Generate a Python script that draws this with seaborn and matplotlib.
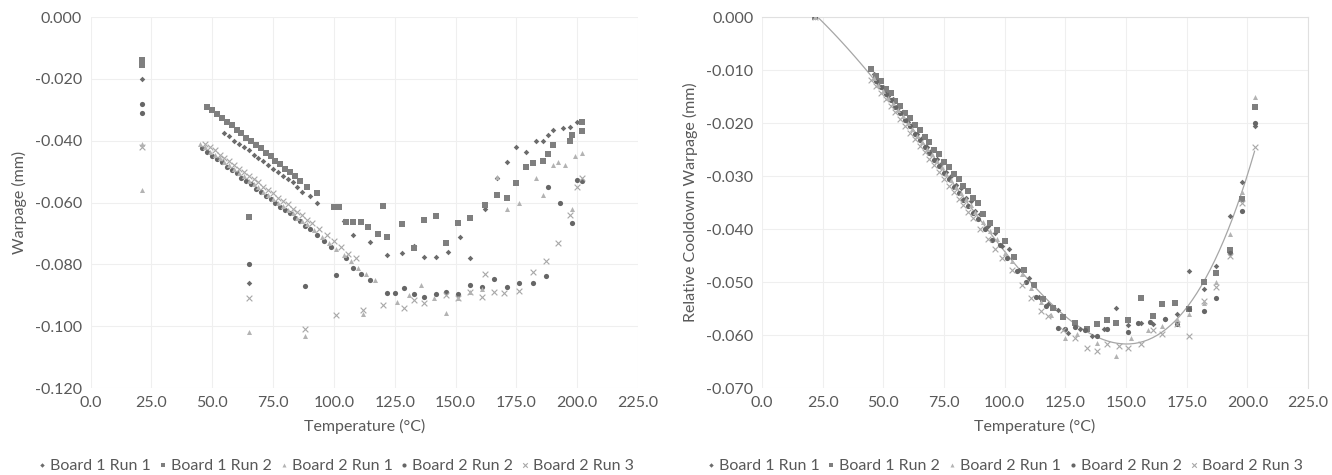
import numpy as np
import pandas as pd
import matplotlib
matplotlib.use("Agg")
import matplotlib.pyplot as plt
import seaborn as sns
from matplotlib.ticker import FormatStrFormatter, MultipleLocator

# ---------------- left panel: warpage vs temperature ----------------
L_B1R1_T = [21, 55, 57, 59, 61, 63, 65, 67, 69, 71, 73, 75, 77, 79, 81, 83, 85, 87, 90, 93,
            65, 104, 108, 115, 122, 128, 133, 137, 142, 147, 152, 156, 162, 167, 171, 175,
            179, 183, 186, 188, 190, 194, 197, 200]
L_B1R1_W = [-0.020, -0.0375, -0.0385, -0.040, -0.041, -0.042, -0.043, -0.0445, -0.0455, -0.0465,
            -0.048, -0.049, -0.050, -0.0515, -0.0525, -0.0535, -0.055, -0.0565, -0.058, -0.060,
            -0.086, -0.066, -0.0705, -0.0728, -0.077, -0.0764, -0.074, -0.0776, -0.0776, -0.076,
            -0.071, -0.078, -0.062, -0.052, -0.047, -0.042, -0.0437, -0.040, -0.040, -0.038,
            -0.0365, -0.036, -0.0355, -0.034]

L_B1R2_T = [21, 21, 48, 50, 52, 54, 56, 58, 60, 62, 64, 66, 68, 70, 72, 74, 76, 78, 80, 82,
            84, 86, 89, 93, 65, 100, 102, 105, 108, 111, 114, 118, 120, 122, 128, 133, 137, 142,
            146, 151, 156, 162, 167, 171, 175, 179, 182, 186, 188, 190, 197, 198, 202, 202]
L_B1R2_W = [-0.014, -0.0155, -0.029, -0.030, -0.0315, -0.0325, -0.034, -0.035, -0.0365, -0.0375,
            -0.039, -0.040, -0.0415, -0.0425, -0.044, -0.045, -0.0465, -0.0475, -0.049, -0.050,
            -0.0515, -0.053, -0.055, -0.057, -0.0647, -0.0614, -0.0614, -0.0663, -0.0663, -0.0663,
            -0.068, -0.070, -0.061, -0.071, -0.067, -0.0748, -0.0657, -0.0644, -0.073, -0.0667,
            -0.065, -0.0608, -0.0576, -0.0586, -0.0537, -0.0485, -0.0472, -0.0466, -0.0443, -0.0414,
            -0.040, -0.038, -0.034, -0.037]

L_B2R1_T = [21, 21, 45, 47, 49, 51, 53, 55, 57, 59, 61, 63, 65, 67, 69, 71, 73, 75, 77, 79,
            81, 83, 85, 87, 89, 92, 95, 98, 101, 104, 107, 110, 113, 117, 65, 88, 112, 126, 131,
            136, 141, 146, 151, 156, 161, 167, 171, 176, 183, 186, 190, 192, 195, 198, 199, 202]
L_B2R1_W = [-0.041, -0.056, -0.041, -0.042, -0.0435, -0.0445, -0.0455, -0.047, -0.048, -0.049,
            -0.0505, -0.0515, -0.053, -0.054, -0.055, -0.0565, -0.0575, -0.059, -0.060, -0.061,
            -0.0625, -0.0635, -0.065, -0.066, -0.067, -0.069, -0.071, -0.073, -0.075, -0.077,
            -0.079, -0.081, -0.083, -0.085, -0.102, -0.103, -0.096, -0.092, -0.090, -0.0867,
            -0.091, -0.0957, -0.091, -0.089, -0.088, -0.0517, -0.062, -0.060, -0.052, -0.0576,
            -0.048, -0.047, -0.048, -0.062, -0.045, -0.044]

L_B2R2_T = [21, 21, 46, 48, 50, 52, 54, 56, 58, 60, 62, 64, 66, 68, 70, 72, 74, 76, 78, 80,
            82, 84, 86, 88, 90, 93, 96, 99, 101, 105, 108, 111, 115, 65, 88, 122, 125, 129, 133,
            137, 142, 146, 151, 156, 161, 166, 171, 176, 182, 187, 188, 193, 198, 200, 202]
L_B2R2_W = [-0.028, -0.031, -0.0425, -0.0435, -0.045, -0.046, -0.047, -0.0485, -0.0495, -0.0505,
            -0.052, -0.053, -0.054, -0.0555, -0.0565, -0.058, -0.059, -0.060, -0.0615, -0.0625,
            -0.0635, -0.065, -0.066, -0.0675, -0.0685, -0.0705, -0.0725, -0.0745, -0.0834, -0.078,
            -0.081, -0.083, -0.085, -0.080, -0.087, -0.0893, -0.0893, -0.0876, -0.0896, -0.0905,
            -0.0896, -0.0889, -0.0896, -0.0867, -0.0873, -0.0848, -0.0873, -0.086, -0.086, -0.0838,
            -0.055, -0.060, -0.0666, -0.0527, -0.053]

L_B2R3_T = [21, 47, 49, 51, 53, 55, 57, 59, 61, 63, 65, 67, 69, 71, 73, 75, 77, 79, 81, 83,
            85, 87, 89, 91, 94, 97, 100, 103, 106, 109, 65, 88, 101, 112, 120, 129, 133, 137,
            146, 151, 156, 161, 162, 166, 170, 176, 182, 187, 192, 197, 200, 202]
L_B2R3_W = [-0.042, -0.041, -0.042, -0.043, -0.0445, -0.0455, -0.0465, -0.048, -0.049, -0.050,
            -0.0515, -0.0525, -0.0535, -0.055, -0.056, -0.057, -0.0585, -0.0595, -0.0605, -0.062,
            -0.063, -0.064, -0.0655, -0.0665, -0.0685, -0.0705, -0.0725, -0.0745, -0.0765, -0.078,
            -0.091, -0.101, -0.0964, -0.0948, -0.093, -0.094, -0.0915, -0.0926, -0.090, -0.091,
            -0.089, -0.0905, -0.083, -0.089, -0.0893, -0.0886, -0.0825, -0.079, -0.073, -0.064,
            -0.055, -0.052]

# ---------------- right panel: relative cooldown warpage ----------------
R_B1R1_T = [22, 46, 48, 50, 52, 54, 56, 58, 60, 62, 64, 66, 68, 70, 72, 74, 76, 78, 80, 82,
            84, 86, 88, 90, 93, 96, 99, 102, 106, 110, 114, 118, 122, 126, 131, 136, 141, 146,
            151, 156, 161, 166, 171, 176, 182, 187, 193, 198, 203]
R_B1R1_W = [0.000, -0.0108, -0.0124, -0.0131, -0.0149, -0.0155, -0.0172, -0.0180, -0.0197, -0.0203,
            -0.0221, -0.0228, -0.0245, -0.0251, -0.0268, -0.0275, -0.0293, -0.0299, -0.0317, -0.0323,
            -0.0341, -0.0347, -0.0365, -0.0371, -0.0394, -0.0408, -0.0431, -0.0438, -0.0478, -0.0492,
            -0.0528, -0.0542, -0.0552, -0.0596, -0.0588, -0.0602, -0.0588, -0.0548, -0.0581, -0.0577,
            -0.0579, -0.0570, -0.0561, -0.0480, -0.0513, -0.0470, -0.0375, -0.0312, -0.0206]

R_B1R2_T = [22, 45, 47, 49, 51, 53, 55, 57, 59, 61, 63, 65, 67, 69, 71, 73, 75, 77, 79, 81,
            83, 85, 87, 89, 91, 94, 97, 100, 104, 108, 112, 116, 120, 124, 129, 134, 138, 142,
            146, 151, 156, 161, 165, 170, 176, 182, 187, 193, 198, 203]
R_B1R2_W = [0.000, -0.0098, -0.0112, -0.0121, -0.0135, -0.0144, -0.0158, -0.0167, -0.0181, -0.0190,
            -0.0204, -0.0213, -0.0227, -0.0236, -0.0250, -0.0259, -0.0273, -0.0282, -0.0296, -0.0305,
            -0.0319, -0.0328, -0.0342, -0.0351, -0.0372, -0.0389, -0.0401, -0.0423, -0.0452, -0.0478,
            -0.0505, -0.0532, -0.0549, -0.0566, -0.0577, -0.0588, -0.0580, -0.0571, -0.0577, -0.0571,
            -0.0530, -0.0564, -0.0541, -0.0540, -0.0550, -0.0500, -0.0482, -0.0440, -0.0343, -0.0170]

R_B2R1_T = [22, 46, 48, 50, 52, 54, 56, 58, 60, 62, 64, 66, 68, 70, 72, 74, 76, 78, 80, 82,
            84, 86, 88, 91, 94, 97, 100, 103, 107, 111, 115, 119, 125, 130, 138, 146, 152, 159,
            165, 171, 176, 182, 187, 193, 198, 203]
R_B2R1_W = [0.000, -0.0115, -0.0128, -0.0139, -0.0152, -0.0163, -0.0176, -0.0187, -0.0200, -0.0211,
            -0.0224, -0.0235, -0.0248, -0.0259, -0.0272, -0.0283, -0.0296, -0.0307, -0.0320, -0.0331,
            -0.0344, -0.0355, -0.0368, -0.0386, -0.0404, -0.0418, -0.0445, -0.0460, -0.0485, -0.0512,
            -0.0538, -0.0562, -0.0605, -0.0598, -0.0615, -0.0640, -0.0605, -0.0590, -0.0583, -0.0570,
            -0.0560, -0.0540, -0.0500, -0.0410, -0.0330, -0.0151]

R_B2R2_T = [22, 47, 49, 51, 53, 55, 57, 59, 61, 63, 65, 67, 69, 71, 73, 75, 77, 79, 81, 83,
            85, 87, 89, 92, 95, 98, 101, 105, 109, 113, 117, 122, 125, 129, 133, 138, 142, 151,
            155, 160, 166, 171, 176, 182, 187, 193, 198, 203]
R_B2R2_W = [0.000, -0.0120, -0.0131, -0.0145, -0.0156, -0.0170, -0.0181, -0.0195, -0.0206, -0.0220,
            -0.0231, -0.0245, -0.0256, -0.0270, -0.0281, -0.0295, -0.0306, -0.0320, -0.0331, -0.0345,
            -0.0356, -0.0370, -0.0381, -0.0400, -0.0420, -0.0430, -0.0455, -0.0480, -0.0500, -0.0528,
            -0.0545, -0.0586, -0.0588, -0.0585, -0.0590, -0.0602, -0.0588, -0.0594, -0.0577, -0.0575,
            -0.0570, -0.0580, -0.0550, -0.0555, -0.0530, -0.0446, -0.0365, -0.0200]

R_B2R3_T = [22, 45, 47, 49, 51, 53, 55, 57, 59, 61, 63, 65, 67, 69, 71, 73, 75, 77, 79, 81,
            83, 85, 87, 90, 93, 96, 99, 103, 107, 111, 115, 118, 124, 129, 134, 138, 142, 147,
            151, 156, 161, 165, 171, 176, 182, 187, 193, 198, 203]
R_B2R3_W = [0.000, -0.0118, -0.0130, -0.0143, -0.0155, -0.0168, -0.0180, -0.0193, -0.0205, -0.0218,
            -0.0230, -0.0243, -0.0255, -0.0268, -0.0280, -0.0293, -0.0305, -0.0318, -0.0330, -0.0343,
            -0.0355, -0.0368, -0.0380, -0.0400, -0.0418, -0.0438, -0.0455, -0.0478, -0.0505, -0.0530,
            -0.0554, -0.0564, -0.0590, -0.0605, -0.0624, -0.0630, -0.0617, -0.0620, -0.0624, -0.0617,
            -0.0590, -0.0598, -0.0580, -0.0602, -0.0535, -0.0510, -0.0450, -0.0350, -0.0246]

SERIES = ["Board 1 Run 1", "Board 1 Run 2", "Board 2 Run 1", "Board 2 Run 2", "Board 2 Run 3"]


def make_frame(pairs):
    rows = []
    for name, (t, w) in zip(SERIES, pairs):
        rows.append(pd.DataFrame({"temp": t, "warp": w, "series": name}))
    return pd.concat(rows, ignore_index=True)


left_df = make_frame([(L_B1R1_T, L_B1R1_W), (L_B1R2_T, L_B1R2_W), (L_B2R1_T, L_B2R1_W),
                      (L_B2R2_T, L_B2R2_W), (L_B2R3_T, L_B2R3_W)])
right_df = make_frame([(R_B1R1_T, R_B1R1_W), (R_B1R2_T, R_B1R2_W), (R_B2R1_T, R_B2R1_W),
                       (R_B2R2_T, R_B2R2_W), (R_B2R3_T, R_B2R3_W)])

sns.set_theme(style="white")
plt.rcParams["font.family"] = ["Lato", "DejaVu Sans"]

palette = {"Board 1 Run 1": "#6b6b6b", "Board 1 Run 2": "#7f7f7f", "Board 2 Run 1": "#b3b3b3",
           "Board 2 Run 2": "#666666", "Board 2 Run 3": "#a8a8a8"}
markers = {"Board 1 Run 1": "D", "Board 1 Run 2": "s", "Board 2 Run 1": "^",
           "Board 2 Run 2": "o", "Board 2 Run 3": "x"}
sizes = {"Board 1 Run 1": 8, "Board 1 Run 2": 18, "Board 2 Run 1": 13,
         "Board 2 Run 2": 14, "Board 2 Run 3": 17}
zorders = {"Board 1 Run 1": 3, "Board 1 Run 2": 3, "Board 2 Run 1": 5,
           "Board 2 Run 2": 3, "Board 2 Run 3": 4}

text_col = "#595959"
fs = 11.5
fig = plt.figure(figsize=(13.32, 4.75), dpi=100)
ax1 = fig.add_axes([0.068, 0.183, 0.411, 0.781])
ax2 = fig.add_axes([0.572, 0.183, 0.410, 0.781])


def draw(ax, df):
    for name in SERIES:
        sub = df[df["series"] == name]
        sns.scatterplot(data=sub, x="temp", y="warp", ax=ax, color=palette[name],
                        marker=markers[name], s=sizes[name],
                        linewidth=0.8 if name == "Board 2 Run 3" else 0,
                        label=name, zorder=zorders[name])


draw(ax1, left_df)
draw(ax2, right_df)

# polynomial trendline over all cooldown points on the right panel
sns.regplot(data=right_df, x="temp", y="warp", ax=ax2, order=4, scatter=False, ci=None,
            truncate=True, line_kws={"color": "#a6a6a6", "lw": 0.9, "zorder": 2})

for ax, ymin, ystep, ylab in [(ax1, -0.120, 0.020, "Warpage (mm)"),
                              (ax2, -0.070, 0.010, "Relative Cooldown Warpage (mm)")]:
    ax.set_xlim(0, 225)
    ax.set_ylim(ymin, 0)
    ax.xaxis.set_major_locator(MultipleLocator(25))
    ax.yaxis.set_major_locator(MultipleLocator(ystep))
    ax.xaxis.set_major_formatter(FormatStrFormatter("%.1f"))
    ax.yaxis.set_major_formatter(FormatStrFormatter("%.3f"))
    ax.grid(True, color="#efefef", lw=0.8)
    ax.tick_params(axis="both", labelsize=fs, colors=text_col, length=0, pad=6)
    ax.set_xlabel("Temperature (°C)", fontsize=fs, color=text_col, labelpad=6)
    ax.set_ylabel(ylab, fontsize=fs, color=text_col, labelpad=6)
    ax.get_legend().remove()

for sp in ax1.spines.values():
    sp.set_visible(False)
for key, sp in ax2.spines.items():
    sp.set_color("#e0e0e0")
    sp.set_linewidth(0.8)
ax2.spines["left"].set_visible(False)
ax2.spines["bottom"].set_visible(False)

handles, labels = ax1.get_legend_handles_labels()
for x0 in (0.016, 0.518):
    fig.legend(handles[:5], labels[:5], loc="center left", bbox_to_anchor=(x0, 0.02),
               ncol=5, frameon=False, fontsize=fs, handletextpad=0.1, columnspacing=0.35,
               handlelength=0.8, markerscale=0.8, labelcolor=text_col)

fig.savefig("out.png", dpi=100)
